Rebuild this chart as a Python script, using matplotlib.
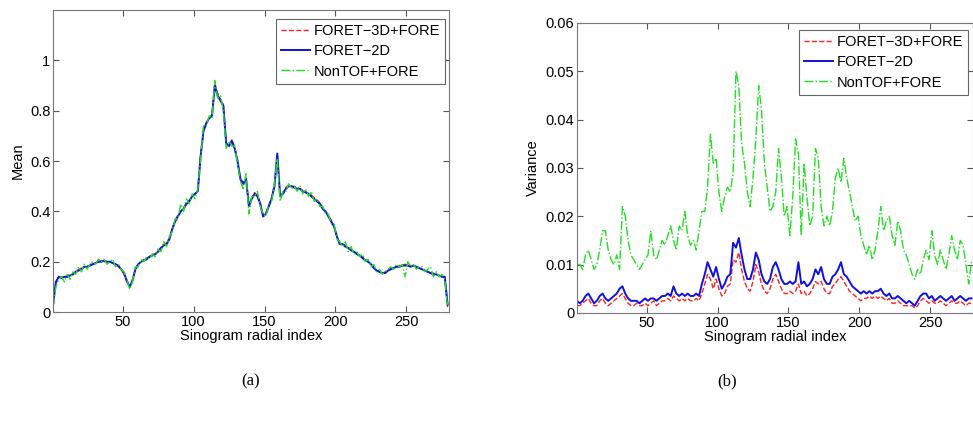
import numpy as np
import matplotlib
matplotlib.use("Agg")
import matplotlib.pyplot as plt

plt.rcParams['font.family'] = ['Liberation Sans', 'DejaVu Sans']

# radial index, every second bin
radial_idx = np.arange(1, 281, 2)

mean_3d = [0.02, 0.11, 0.14, 0.14, 0.14, 0.145, 0.15, 0.15, 0.16, 0.17,
           0.175, 0.18, 0.18, 0.19, 0.19, 0.195, 0.20, 0.205, 0.20, 0.20,
           0.20, 0.195, 0.19, 0.18, 0.17, 0.15, 0.12, 0.10, 0.13, 0.17,
           0.19, 0.20, 0.21, 0.215, 0.22, 0.23, 0.23, 0.245, 0.255, 0.27,
           0.275, 0.295, 0.33, 0.365, 0.385, 0.40, 0.415, 0.435, 0.445, 0.46,
           0.47, 0.485, 0.63, 0.72, 0.755, 0.77, 0.785, 0.91, 0.87, 0.845,
           0.825, 0.67, 0.665, 0.685, 0.655, 0.60, 0.525, 0.505, 0.535, 0.42,
           0.455, 0.475, 0.465, 0.435, 0.385, 0.395, 0.425, 0.455, 0.505, 0.625,
           0.46, 0.475, 0.495, 0.505, 0.50, 0.50, 0.495, 0.49, 0.485, 0.48,
           0.47, 0.465, 0.455, 0.445, 0.435, 0.415, 0.40, 0.385, 0.365, 0.34,
           0.30, 0.275, 0.27, 0.265, 0.255, 0.25, 0.24, 0.235, 0.225, 0.22,
           0.21, 0.20, 0.19, 0.18, 0.165, 0.16, 0.155, 0.16, 0.165, 0.175,
           0.175, 0.18, 0.185, 0.185, 0.19, 0.185, 0.185, 0.185, 0.18, 0.175,
           0.17, 0.165, 0.16, 0.155, 0.155, 0.15, 0.145, 0.145, 0.14, 0.02]

mean_2d = [0.03, 0.12, 0.14, 0.135, 0.14, 0.14, 0.145, 0.15, 0.16, 0.165,
           0.17, 0.18, 0.18, 0.185, 0.19, 0.195, 0.20, 0.20, 0.205, 0.20,
           0.20, 0.195, 0.19, 0.185, 0.17, 0.155, 0.125, 0.10, 0.125, 0.17,
           0.19, 0.20, 0.205, 0.21, 0.22, 0.225, 0.23, 0.24, 0.255, 0.265,
           0.27, 0.29, 0.33, 0.36, 0.38, 0.40, 0.41, 0.43, 0.44, 0.46,
           0.47, 0.48, 0.62, 0.72, 0.75, 0.77, 0.78, 0.90, 0.86, 0.84,
           0.82, 0.67, 0.66, 0.68, 0.65, 0.60, 0.53, 0.51, 0.53, 0.42,
           0.45, 0.47, 0.46, 0.43, 0.38, 0.39, 0.42, 0.45, 0.50, 0.63,
           0.46, 0.47, 0.49, 0.50, 0.50, 0.495, 0.49, 0.49, 0.48, 0.475,
           0.47, 0.46, 0.45, 0.44, 0.43, 0.41, 0.40, 0.38, 0.36, 0.34,
           0.30, 0.27, 0.27, 0.26, 0.255, 0.245, 0.24, 0.23, 0.225, 0.215,
           0.205, 0.20, 0.19, 0.175, 0.165, 0.16, 0.155, 0.155, 0.165, 0.17,
           0.175, 0.18, 0.18, 0.185, 0.185, 0.185, 0.18, 0.185, 0.18, 0.175,
           0.17, 0.165, 0.16, 0.155, 0.15, 0.15, 0.145, 0.14, 0.14, 0.03]

mean_nontof = [0.02, 0.10, 0.13, 0.14, 0.12, 0.15, 0.13, 0.16, 0.15, 0.18,
               0.16, 0.19, 0.17, 0.19, 0.20, 0.19, 0.21, 0.20, 0.21, 0.19,
               0.20, 0.21, 0.18, 0.19, 0.17, 0.16, 0.13, 0.09, 0.12, 0.18,
               0.18, 0.21, 0.20, 0.22, 0.21, 0.23, 0.22, 0.25, 0.24, 0.28,
               0.26, 0.30, 0.32, 0.37, 0.37, 0.43, 0.40, 0.45, 0.43, 0.47,
               0.45, 0.49, 0.61, 0.74, 0.74, 0.78, 0.77, 0.92, 0.85, 0.86,
               0.80, 0.65, 0.68, 0.66, 0.66, 0.59, 0.52, 0.49, 0.55, 0.39,
               0.46, 0.46, 0.48, 0.42, 0.39, 0.38, 0.43, 0.44, 0.51, 0.61,
               0.44, 0.48, 0.48, 0.51, 0.49, 0.50, 0.48, 0.50, 0.47, 0.49,
               0.46, 0.48, 0.44, 0.45, 0.42, 0.42, 0.39, 0.39, 0.35, 0.35,
               0.29, 0.28, 0.26, 0.28, 0.24, 0.26, 0.23, 0.24, 0.22, 0.23,
               0.20, 0.21, 0.18, 0.19, 0.16, 0.17, 0.15, 0.16, 0.17, 0.18,
               0.17, 0.19, 0.18, 0.19, 0.14, 0.20, 0.18, 0.19, 0.17, 0.18,
               0.18, 0.16, 0.17, 0.18, 0.14, 0.16, 0.14, 0.15, 0.13, 0.02]

var_3d = [0.0015, 0.0015, 0.002, 0.0025, 0.003, 0.002, 0.0015, 0.0015, 0.0025, 0.003,
          0.002, 0.0015, 0.002, 0.0025, 0.003, 0.0035, 0.004, 0.003, 0.002, 0.0015,
          0.0015, 0.002, 0.0015, 0.0015, 0.002, 0.0015, 0.002, 0.0025, 0.0015, 0.002,
          0.0025, 0.0025, 0.003, 0.0025, 0.0035, 0.003, 0.0025, 0.003, 0.0025, 0.003,
          0.0025, 0.0025, 0.003, 0.0025, 0.004, 0.006, 0.008, 0.007, 0.005, 0.007,
          0.005, 0.0035, 0.004, 0.0055, 0.006, 0.011, 0.0105, 0.0125, 0.009, 0.0065,
          0.005, 0.0045, 0.0065, 0.010, 0.0085, 0.006, 0.0045, 0.004, 0.005, 0.007,
          0.008, 0.0065, 0.005, 0.004, 0.004, 0.0045, 0.004, 0.0045, 0.006, 0.004,
          0.0045, 0.0035, 0.004, 0.005, 0.0065, 0.006, 0.0065, 0.005, 0.004, 0.004,
          0.0055, 0.006, 0.007, 0.0075, 0.0065, 0.0055, 0.0045, 0.004, 0.0035, 0.003,
          0.0025, 0.003, 0.003, 0.0035, 0.003, 0.0035, 0.003, 0.0035, 0.003, 0.0025,
          0.003, 0.002, 0.002, 0.0025, 0.002, 0.0015, 0.0015, 0.0015, 0.0015, 0.001,
          0.0015, 0.0025, 0.003, 0.0025, 0.002, 0.0025, 0.002, 0.002, 0.0025, 0.002,
          0.0015, 0.002, 0.0025, 0.002, 0.002, 0.0025, 0.002, 0.0015, 0.002, 0.002]

var_2d = [0.0025, 0.002, 0.0025, 0.0035, 0.004, 0.003, 0.002, 0.0025, 0.0035, 0.004,
          0.003, 0.0025, 0.003, 0.0035, 0.004, 0.005, 0.0055, 0.004, 0.003, 0.0025,
          0.0025, 0.0025, 0.002, 0.0025, 0.003, 0.0025, 0.003, 0.003, 0.0025, 0.003,
          0.0035, 0.0035, 0.004, 0.0035, 0.0055, 0.004, 0.0035, 0.004, 0.0035, 0.004,
          0.0035, 0.0035, 0.004, 0.0035, 0.006, 0.008, 0.0105, 0.009, 0.0075, 0.0095,
          0.007, 0.005, 0.006, 0.0075, 0.008, 0.0145, 0.0135, 0.0155, 0.012, 0.009,
          0.007, 0.007, 0.009, 0.0125, 0.011, 0.008, 0.0065, 0.006, 0.007, 0.0095,
          0.0105, 0.009, 0.007, 0.006, 0.006, 0.0065, 0.006, 0.0065, 0.0105, 0.006,
          0.0065, 0.0055, 0.006, 0.007, 0.009, 0.008, 0.0095, 0.007, 0.006, 0.006,
          0.0075, 0.008, 0.009, 0.0105, 0.008, 0.0075, 0.0065, 0.0055, 0.005, 0.0045,
          0.004, 0.0045, 0.004, 0.0045, 0.004, 0.0045, 0.0045, 0.005, 0.004, 0.0035,
          0.004, 0.003, 0.003, 0.0035, 0.003, 0.0025, 0.002, 0.0025, 0.002, 0.0015,
          0.0025, 0.0035, 0.004, 0.004, 0.003, 0.0035, 0.0025, 0.003, 0.0035, 0.003,
          0.0025, 0.003, 0.0035, 0.0025, 0.003, 0.0035, 0.003, 0.0025, 0.003, 0.003]

var_nontof = [0.010, 0.010, 0.009, 0.012, 0.013, 0.011, 0.009, 0.010, 0.013, 0.017,
              0.017, 0.013, 0.011, 0.010, 0.012, 0.009, 0.022, 0.020, 0.015, 0.012,
              0.011, 0.010, 0.009, 0.010, 0.011, 0.012, 0.017, 0.012, 0.011, 0.013,
              0.015, 0.014, 0.016, 0.018, 0.015, 0.013, 0.018, 0.017, 0.021, 0.016,
              0.014, 0.015, 0.013, 0.017, 0.021, 0.021, 0.026, 0.037, 0.031, 0.032,
              0.025, 0.021, 0.024, 0.026, 0.025, 0.029, 0.050, 0.047, 0.035, 0.031,
              0.025, 0.022, 0.028, 0.036, 0.047, 0.042, 0.031, 0.026, 0.021, 0.022,
              0.025, 0.034, 0.028, 0.020, 0.022, 0.016, 0.024, 0.036, 0.033, 0.016,
              0.031, 0.024, 0.018, 0.020, 0.034, 0.032, 0.022, 0.018, 0.020, 0.018,
              0.021, 0.028, 0.030, 0.027, 0.032, 0.028, 0.025, 0.022, 0.019, 0.020,
              0.016, 0.014, 0.012, 0.014, 0.011, 0.013, 0.017, 0.022, 0.017, 0.019,
              0.020, 0.016, 0.014, 0.019, 0.017, 0.013, 0.012, 0.010, 0.008, 0.007,
              0.009, 0.008, 0.011, 0.013, 0.011, 0.017, 0.012, 0.010, 0.013, 0.011,
              0.009, 0.012, 0.016, 0.013, 0.011, 0.015, 0.014, 0.010, 0.006, 0.011]

labels = ['FORET\u22123D+FORE', 'FORET\u22122D', 'NonTOF+FORE']

fig = plt.figure(figsize=(9.73, 4.24), dpi=100)
ax1 = fig.add_axes([0.0545, 0.264, 0.407, 0.712])
ax2 = fig.add_axes([0.593, 0.262, 0.407, 0.684])


def draw(ax, a, b, c, anchor):
    ax.plot(radial_idx, a, color='#ff2020', ls='--', lw=1.0, label=labels[0])
    ax.plot(radial_idx, b, color='#1010e0', ls='-', lw=1.4, label=labels[1])
    ax.plot(radial_idx, c, color='#20e020', ls='-.', lw=1.0, label=labels[2])
    ax.set_xlim(1, 280)
    ax.set_xticks([50, 100, 150, 200, 250])
    ax.tick_params(direction='in', top=True, right=True, length=4,
                   labelsize=10.5, color='#555555', pad=2)
    for s in ax.spines.values():
        s.set_color('#777777')
        s.set_linewidth(0.8)
    ax.set_xlabel('Sinogram radial index', fontsize=10.5, labelpad=0)
    leg = ax.legend(loc='upper right', bbox_to_anchor=anchor, fontsize=10.5,
                    fancybox=False, framealpha=1, edgecolor='#666666',
                    handlelength=2.0, handletextpad=0.25, borderpad=0.35,
                    labelspacing=0.42, borderaxespad=0.0)
    leg.get_frame().set_linewidth(0.8)


draw(ax1, mean_3d, mean_2d, mean_nontof, (0.99, 0.97))
ax1.set_ylim(0, 1.2)
ax1.set_yticks([0, 0.2, 0.4, 0.6, 0.8, 1])
ax1.set_yticklabels(['0', '0.2', '0.4', '0.6', '0.8', '1'])
ax1.set_ylabel('Mean', fontsize=10.5, labelpad=4)

draw(ax2, var_3d, var_2d, var_nontof, (0.988, 0.975))
ax2.set_ylim(0, 0.06)
ax2.set_yticks([0, 0.01, 0.02, 0.03, 0.04, 0.05, 0.06])
ax2.set_yticklabels(['0', '0.01', '0.02', '0.03', '0.04', '0.05', '0.06'])
ax2.set_ylabel('Variance', fontsize=10.5, labelpad=4)

fig.text(0.258, 0.10, '(a)', ha='center', va='center', fontsize=12,
         family='Liberation Serif')
fig.text(0.747, 0.10, '(b)', ha='center', va='center', fontsize=12,
         family='Liberation Serif')

fig.savefig('out.png', dpi=100)
